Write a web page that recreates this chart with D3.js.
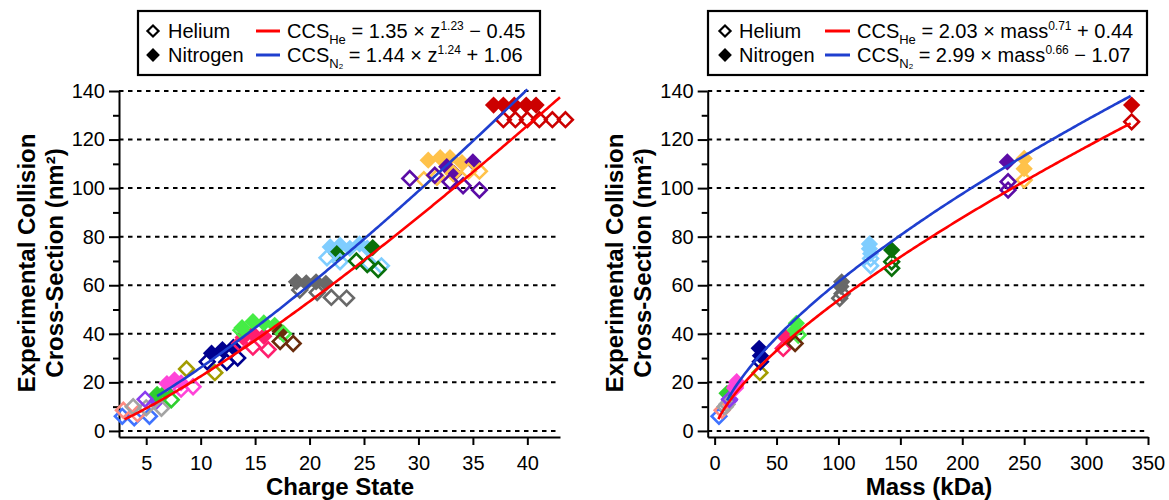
<!DOCTYPE html>
<html><head><meta charset="utf-8">
<script src="https://cdn.jsdelivr.net/npm/d3@7"></script>
<style>
body{margin:0;background:#fff}
text{font-family:"Liberation Sans",Arial,Helvetica,sans-serif;fill:#000}
</style>
</head><body>
<svg id="c" width="1169" height="500"></svg>
<script>
// ---------- data ----------
const groupColors = ["#3f73ff","#ff8a80","#a3a3a3","#8a3cf0","#2fcf2f","#ff44d8","#a39c00","#00008f",
  "#ff1f6e","#46ec46","#6a2c0c","#696969","#7fcdff","#0a700a","#ffc24a","#5b0ca6","#cc0000"];

// [group, charge state, CCS nm²] helium (open)
const chargeHe = [
 [0,2.8,6],[0,3.9,5.4],[0,5.3,6],
 [1,2.9,8.5],[1,4.2,7],
 [2,3.8,10],[2,5.0,9.5],[2,6.4,9.3],
 [3,4.9,13],
 [4,7.3,12.8],
 [5,8.2,17.2],[5,9.3,18.2],
 [6,8.7,25.5],[6,11.3,24],
 [7,10.6,28.5],[7,12.4,28.3],[7,13.4,30],
 [8,13.6,36],[8,14.8,34.5],[8,16.2,33.5],
 [9,13.7,41.5],[9,17.6,40],
 [10,17.3,36.8],[10,18.5,36],
 [11,19.1,58],[11,20.7,57],[11,22,55],[11,23.4,54.7],
 [12,21.6,71.3],[12,22.8,69.7],[12,25.5,69],[12,26.6,68],
 [13,24.3,70],[13,25.3,68.5],[13,26.3,66.5],
 [14,30.5,103.5],[14,31.7,104.5],[14,33.2,106],[14,34.6,107],[14,35.6,107],
 [15,29.2,104],[15,31.5,105.3],[15,32.9,102.6],[15,34.1,101],[15,35.6,99.2],
 [16,37.8,128.2],[16,38.9,128.2],[16,40,128.2],[16,41.1,128.2],[16,42.3,128.2],[16,43.5,128.2]
];
// [group, charge state, CCS nm²] nitrogen (filled)
const chargeN2 = [
 [3,5.9,12],
 [4,6.0,15],[4,6.8,16.2],
 [5,6.9,19.5],[5,7.6,21],[5,8.2,19.8],
 [7,11,32],[7,12,33.5],[7,13,34.5],
 [8,13.9,38.5],[8,14.8,40],[8,15.8,39],
 [9,13.8,42.5],[9,14.8,45],[9,15.8,44.5],[9,16.8,43.5],
 [10,17.3,41],
 [11,18.8,61.4],[11,19.7,61],[11,20.6,61.4],[11,21.5,60.8],
 [12,21.9,75.8],[12,22.8,76.5],[12,23.7,75.2],[12,24.6,77],[12,25.3,75.3],
 [13,22.5,73],[13,25.8,75.5],
 [14,30.9,111.5],[14,32,112.5],[14,32.9,112.5],[14,34,110.5],
 [15,32.6,108.8],[15,33.3,106],[15,35,110.8],
 [16,36.9,134.2],[16,37.8,134.2],[16,38.8,134.2],[16,39.9,134.2],[16,40.8,134.2]
];
// [group, mass kDa, CCS nm²]
const massHe = [
 [0,3.5,6],[1,6,8.5],[2,8.5,10],[2,10,11],[3,12,13],[5,16.5,17.7],[6,36.6,24],[7,37,28.5],
 [8,55.4,34],[9,67.5,39.5],[10,65,36],[11,101,54.6],[11,103,56.5],[12,126,68],[12,126,71],
 [13,143,67],[13,143,69.7],[14,250,103.3],[15,237,99.2],[15,237,102.6],[16,336.8,127.3]
];
const massN2 = [
 [3,12,12.5],[4,10,15.5],[5,17.8,20.3],[5,17,18.5],[7,36,34],[7,37,31],[8,56.8,38.8],
 [9,66,44.3],[9,65,41.5],[11,102.6,61.4],[11,102,59.5],[12,125,77],[12,125,75],[12,126,73],
 [13,143,74.5],[14,250,112.2],[14,250,108],[15,236.4,110.8],[16,336.8,134.2]
];
const ccsTicks = [0,20,40,60,80,100,120,140];
const ccsMinorTicks = [10,30,50,70,90,110,130];
const chargeTicks = [5,10,15,20,25,30,35,40];
const massTicks = [0,50,100,150,200,250,300,350];
// fit parameters [a, b, c, xFrom, xTo]  CCS = a*x^b + c
const chargeFitHe = [1.35,1.23,-0.45,3,43];
const chargeFitN2 = [1.44,1.24,1.06,6,40];
const massFitHe = [2.03,0.71,0.44,3,336];
const massFitN2 = [2.99,0.66,-1.07,10,336];
const chargeLegend = [["He","1.35","z","1.23","\u2212","0.45"],["N","1.44","z","1.24","+","1.06"]];
const massLegend = [["He","2.03","mass","0.71","+","0.44"],["N","2.99","mass","0.66","\u2212","1.07"]];

// ---------- drawing ----------
const svg = d3.select("#c");
const RED = "#ff0000", BLUE = "#1f3fcf";
const yDomain = [-2.5,140], yRange = [437,91];

const panels = [
  {xDomain:[2.5,43], xRange:[119,560], xTicks:chargeTicks, he:chargeHe, n2:chargeN2,
   fitHe:chargeFitHe, fitN2:chargeFitN2, xTitle:"Charge State", xTitleX:340, yTitleX:[26,54],
   leg:{x:138,y:11,w:402,h:64,sym:153,txt:168,l1:256,l2:280,eq:287,rows:chargeLegend}},
  {xDomain:[-5.6,350], xRange:[707.7,1148], xTicks:massTicks, he:massHe, n2:massN2,
   fitHe:massFitHe, fitN2:massFitN2, xTitle:"Mass (kDa)", xTitleX:929, yTitleX:[614,642],
   leg:{x:708,y:11,w:439,h:64,sym:725,txt:739,l1:825,l2:850,eq:857,rows:massLegend}}
];

const openSym = d3.symbol(d3.symbolSquare, 108)();
const fillSym = d3.symbol(d3.symbolSquare, 150)();

panels.forEach(p => {
  const x = d3.scaleLinear().domain(p.xDomain).range(p.xRange);
  const y = d3.scaleLinear().domain(yDomain).range(yRange);
  const g = svg.append("g");

  // grid
  g.append("g").selectAll("line").data(ccsTicks).join("line")
    .attr("x1", p.xRange[0]).attr("x2", p.xRange[1])
    .attr("y1", d=>y(d)).attr("y2", d=>y(d))
    .attr("stroke","#000").attr("stroke-width",2).attr("stroke-dasharray","4.5,4.5");

  // axes
  const ya = g.append("g").attr("transform",`translate(${p.xRange[0]},0)`)
    .call(d3.axisLeft(y).tickValues(ccsTicks).tickSize(10).tickPadding(4).tickSizeOuter(0));
  const ym = g.append("g").attr("transform",`translate(${p.xRange[0]},0)`)
    .call(d3.axisLeft(y).tickValues(ccsMinorTicks).tickSize(6).tickFormat("").tickSizeOuter(0));
  ym.select(".domain").remove();
  const xa = g.append("g").attr("transform",`translate(0,${yRange[0]})`)
    .call(d3.axisBottom(x).tickValues(p.xTicks).tickSize(8).tickPadding(11).tickSizeOuter(0));
  [ya,ym,xa].forEach(a=>{
    a.selectAll("path,line").attr("stroke","#000").attr("stroke-width",2);
    a.selectAll("text").attr("font-size",20).attr("font-family","Liberation Sans, Arial, sans-serif").attr("fill","#000");
  });

  // markers: filled (N2) then open (He)
  g.append("g").selectAll("path").data(p.n2).join("path")
    .attr("d", fillSym)
    .attr("transform", d=>`translate(${x(d[1])},${y(d[2])}) rotate(45)`)
    .attr("fill", d=>groupColors[d[0]]);
  g.append("g").selectAll("path").data(p.he).join("path")
    .attr("d", openSym)
    .attr("transform", d=>`translate(${x(d[1])},${y(d[2])}) rotate(45)`)
    .attr("fill","none").attr("stroke", d=>groupColors[d[0]]).attr("stroke-width",2.6);

  // fits
  const line = d3.line().x(d=>x(d[0])).y(d=>y(d[1]));
  [[p.fitHe,RED],[p.fitN2,BLUE]].forEach(([f,col])=>{
    const pts = d3.range(0,201).map(i=>{const xv=f[3]+(f[4]-f[3])*i/200; return [xv, f[0]*Math.pow(xv,f[1])+f[2]];});
    g.append("path").attr("d", line(pts)).attr("fill","none").attr("stroke",col).attr("stroke-width",2.6);
  });

  // titles
  g.append("text").attr("x",p.xTitleX).attr("y",495).attr("text-anchor","middle")
    .attr("font-size",24).attr("font-weight","bold").text(p.xTitle);
  ["Experimental Collision","Cross-Section (nm\u00b2)"].forEach((t,i)=>{
    g.append("text").attr("transform",`translate(${p.yTitleX[i]},263) rotate(-90)`)
      .attr("text-anchor","middle").attr("dominant-baseline","central")
      .attr("font-size",24).attr("font-weight","bold").text(t);
  });

  // legend
  const L = p.leg;
  const lg = svg.append("g");
  lg.append("rect").attr("x",L.x).attr("y",L.y).attr("width",L.w).attr("height",L.h)
    .attr("fill","#fff").attr("stroke","#000").attr("stroke-width",2.2);
  const rowsY = [31,55];
  ["Helium","Nitrogen"].forEach((name,i)=>{
    const cy = rowsY[i];
    lg.append("path").attr("d", d3.symbol(d3.symbolSquare, i? 95:62)())
      .attr("transform",`translate(${L.sym},${cy}) rotate(45)`)
      .attr("fill", i? "#000":"none").attr("stroke", i? "none":"#000").attr("stroke-width",2.2);
    lg.append("text").attr("x",L.txt).attr("y",cy+7).attr("font-size",20).text(name);
    lg.append("line").attr("x1",L.l1).attr("x2",L.l2).attr("y1",cy).attr("y2",cy)
      .attr("stroke", i? BLUE:RED).attr("stroke-width",3);
    const r = L.rows[i];
    const t = lg.append("text").attr("x",L.eq).attr("y",cy+7).attr("font-size",20);
    t.append("tspan").text("CCS");
    if (i===0) {
      t.append("tspan").attr("font-size",13).attr("dy",6).text(r[0]);
      t.append("tspan").attr("dy",-6).text(` = ${r[1]} \u00d7 ${r[2]}`);
    } else {
      t.append("tspan").attr("font-size",13).attr("dy",6).text(r[0]);
      t.append("tspan").attr("font-size",8).attr("dy",1).text("2");
      t.append("tspan").attr("dy",-7).text(` = ${r[1]} \u00d7 ${r[2]}`);
    }
    t.append("tspan").attr("font-size",12).attr("dy",-8).text(r[3]);
    t.append("tspan").attr("dy",8).text(` ${r[4]} ${r[5]}`);
  });
});
</script>
</body></html>
